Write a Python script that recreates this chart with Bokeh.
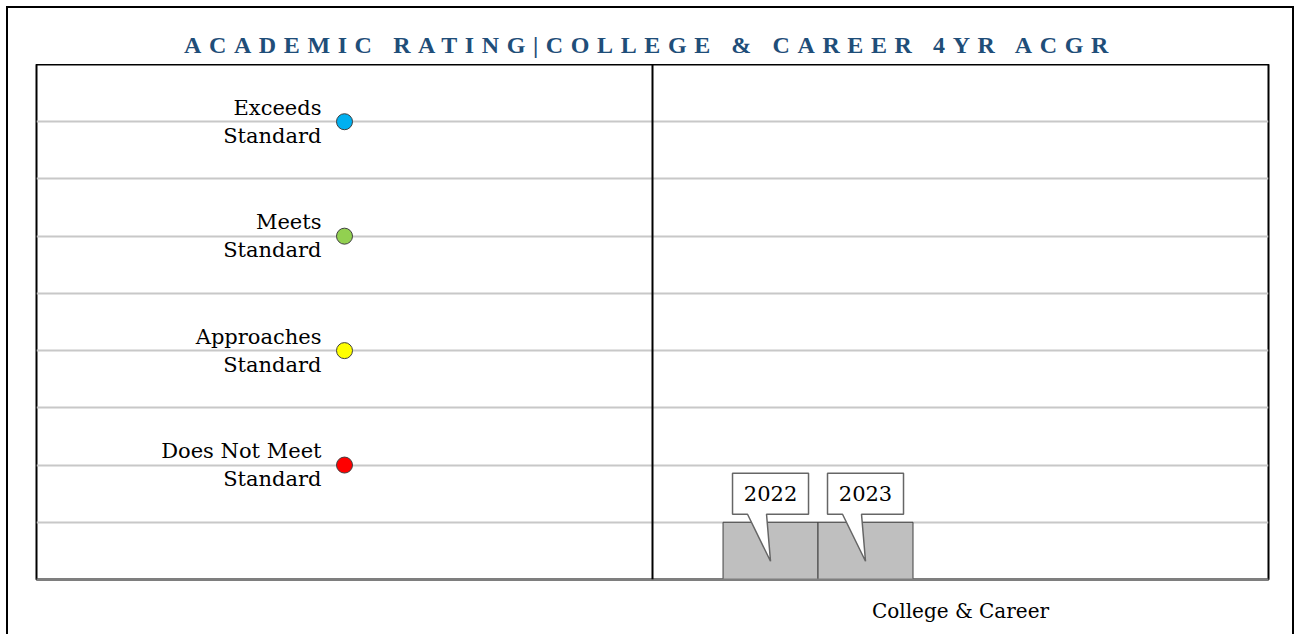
from bokeh.plotting import figure
from bokeh.models import FactorRange, Range1d, FixedTicker, Span, ColumnDataSource, Div
from bokeh.layouts import column
from bokeh.embed import file_html
from bokeh.resources import INLINE
from bokeh.core.properties import value

# ---------------- data ----------------
title_text = "ACADEMIC RATING|COLLEGE &amp; CAREER 4YR ACGR"
categories = [" ", "College & Career"]          # left panel holds the rating legend
legend_category = " "
bar_category = "College & Career"
rating_labels = ["Exceeds\nStandard", "Meets\nStandard", "Approaches\nStandard", "Does Not Meet\nStandard"]
rating_levels = [8, 6, 4, 2]
rating_colors = ["#00B0F0", "#92D050", "#FFFF00", "#FF0000"]
years = ["2022", "2023"]
year_values = [1, 1]
n_year_slots = 5
y_max = 9

# ---------------- style / layout ----------------
FONT = "DejaVu Serif"
FIG_W, FIG_H = 1284, 570
FRAME_W, FRAME_H = 1232, 515
MB_LEFT = 28
MB_RIGHT = FIG_W - MB_LEFT - FRAME_W
MB_TOP, MB_BOTTOM = 0, FIG_H - FRAME_H
group_width = 0.771

p = figure(
    x_range=FactorRange(factors=categories, range_padding=0, factor_padding=0),
    y_range=Range1d(0, y_max),
    width=FIG_W, height=FIG_H,
    min_border_left=MB_LEFT, min_border_right=MB_RIGHT,
    min_border_top=MB_TOP, min_border_bottom=MB_BOTTOM,
    y_axis_location=None,
    output_backend="svg", toolbar_location=None,
)
p.background_fill_color = "white"
p.border_fill_color = "white"
p.outline_line_color = "black"
p.outline_line_width = 2

p.xgrid.visible = False
p.ygrid.ticker = FixedTicker(ticks=list(range(1, y_max)))
p.ygrid.grid_line_color = "#c8c8c8"
p.ygrid.grid_line_width = 2

p.xaxis.major_tick_line_color = None
p.xaxis.minor_tick_line_color = None
p.xaxis.axis_line_color = "#7f7f7f"
p.xaxis.axis_line_width = 2
p.xaxis.major_label_text_font = FONT
p.xaxis.major_label_text_font_size = "20px"
p.xaxis.major_label_text_color = "black"
p.xaxis.major_label_standoff = 13

# separator between legend panel and chart panel
p.add_layout(Span(location=categories.index(bar_category), dimension="height",
                  line_color="black", line_width=2))

# legend column (dots + labels)
legend_x = [categories.index(legend_category) + 0.5] * len(rating_levels)
leg_src = ColumnDataSource(dict(x=legend_x, y=rating_levels, label=rating_labels, color=rating_colors))
p.scatter("x", "y", source=leg_src, size=16, fill_color="color", line_color="#404040", line_width=1)
p.text("x", "y", text="label", source=leg_src, x_offset=-23, text_align="right",
       text_baseline="middle", text_font=value(FONT), text_font_size="21px",
       text_color="black", text_line_height=1.16)

# bars
slot = group_width / n_year_slots
center = categories.index(bar_category) + 0.5
bar_x = [center + (i - (n_year_slots - 1) / 2) * slot for i in range(len(years))]
bar_src = ColumnDataSource(dict(x=bar_x, top=year_values, year=years))
p.vbar(x="x", top="top", bottom=0, width=slot, source=bar_src,
       fill_color="#BFBFBF", line_color="#404040", line_width=1)

# callouts (box + pointer) in data units derived from pixel offsets
px = len(categories) / FRAME_W
py = y_max / FRAME_H
xs, ys, lx, ly = [], [], [], []
for cx, v in zip(bar_x, year_values):
    b = v + 8 * py
    t = b + 41 * py
    l, r = cx - 38 * px, cx + 38 * px
    tip = v - 39 * py
    xs.append([l, r, r, cx - 4 * px, cx, cx - 23 * px, l])
    ys.append([t, t, b, b, tip, b, b])
    lx.append(cx)
    ly.append((b + t) / 2)
p.patches(xs, ys, fill_color="white", line_color="#666666", line_width=1.5)
p.text(lx, ly, text=years, text_align="center", text_baseline="middle",
       text_font=value(FONT), text_font_size="21px", text_color="black")

title_div = Div(
    text=('<div style="display:block; width:%dpx; padding-top:20px; padding-left:8px; '
          "text-align:center; font-family:'Liberation Serif', serif; font-weight:bold; "
          'font-size:24px; letter-spacing:7.6px; color:#1F4E79;">' % (FIG_W - 8)
          + title_text + '</div>'),
    width=FIG_W, height=56, margin=(0, 0, 0, 0),
)

layout = column(title_div, p, styles={
    "margin-left": "6px",
    "margin-top": "6px",
    "border-left": "2px solid black",
    "border-top": "2px solid black",
    "border-right": "2px solid black",
    "background": "white",
})

open("out.html", "w").write(file_html(layout, INLINE))
